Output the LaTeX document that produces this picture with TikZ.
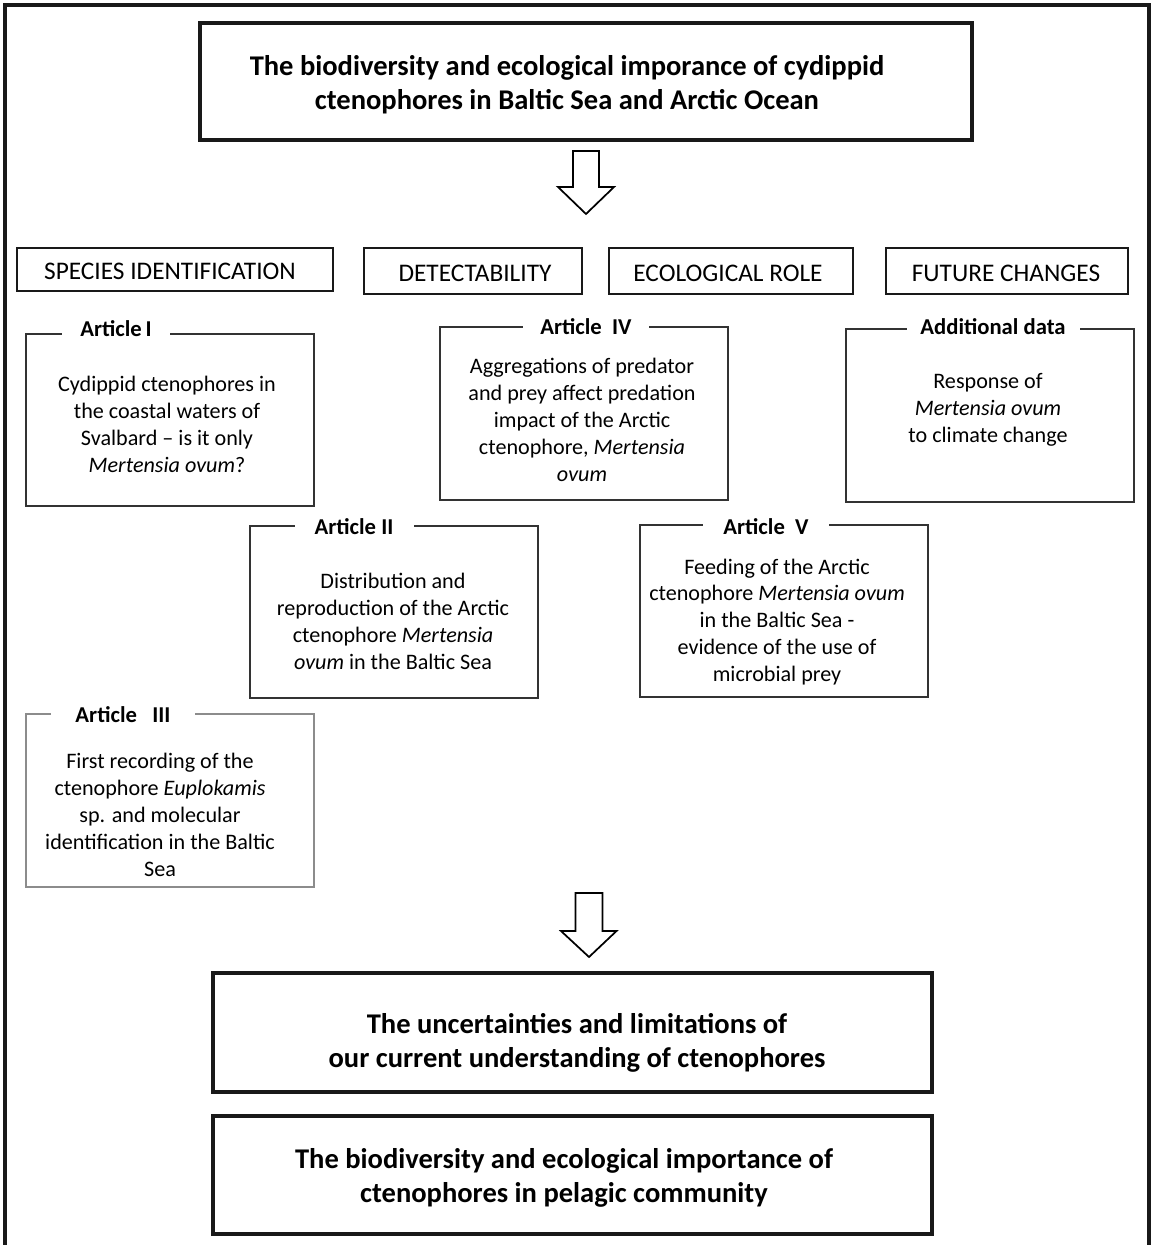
\documentclass[tikz,border=0pt]{standalone}
\usepackage{fontspec}
\setmainfont{Carlito}
\newcommand\pxu{0.75pt}
\begin{document}
\begin{tikzpicture}[x=0.75pt,y=-0.75pt,
  thick frame/.style={draw=black!90, line width=2.3pt},
  bigbox/.style={draw=black!90, line width=2.3pt, inner sep=0pt},
  catbox/.style={draw=black!90, line width=1.6pt, inner sep=0pt},
  cattext/.style={inner sep=0pt, font=\fontsize{19}{22}\selectfont},
  artbox/.style={draw=black!80, line width=1.1pt, inner sep=0pt, minimum width=288*\pxu},
  lightbox/.style={draw=black!45, line width=0.8pt, inner sep=0pt, minimum width=288*\pxu},
  bodytext/.style={align=center, inner sep=0pt, font=\fontsize{16.6}{20.2}\selectfont},
  bigtext/.style={align=center, inner sep=0pt, font=\fontsize{21.4}{25.6}\selectfont\bfseries},
  arttitle/.style={fill=white, inner ysep=1pt, inner xsep=0pt, font=\fontsize{17}{19}\selectfont\bfseries},
  blockarrow/.style={draw=black, line width=1.3pt, fill=white, line join=miter}
]
\useasboundingbox (0,0) rectangle (1153,1245);
% outer frame (open at bottom)
\draw[thick frame] (5,1246) -- (5,5) -- (1149,5) -- (1149,1246);

% title
\node[bigbox, minimum width=772*\pxu, minimum height=117*\pxu] (title) at (586,81.5) {};
\node[bigtext] (titletext) at (567,85) {The biodiversity and ecological imporance of cydippid\\ctenophores in Baltic Sea and Arctic Ocean};

% arrow 1
\coordinate (ar1) at (586,151);
\draw[blockarrow] (ar1) ++(-13,0) -- ++(26,0) -- ++(0,36) -- ++(15,0) -- (586,214) -- (558,187) -- ++(15,0) -- cycle;

% category boxes
\node[catbox, minimum width=316*\pxu, minimum height=43*\pxu] (cat1) at (175,269.5) {};
\node[cattext] (cat1t) at (170,271) {SPECIES IDENTIFICATION};
\node[catbox, minimum width=218*\pxu, minimum height=46*\pxu] (cat2) at (473,271) {};
\node[cattext] (cat2t) at (475,273) {DETECTABILITY};
\node[catbox, minimum width=244*\pxu, minimum height=46*\pxu] (cat3) at (731,271) {};
\node[cattext] (cat3t) at (728,273) {ECOLOGICAL ROLE};
\node[catbox, minimum width=242*\pxu, minimum height=46*\pxu] (cat4) at (1007,271) {};
\node[cattext] (cat4t) at (1006,273) {FUTURE CHANGES};

% Article I
\node[artbox, minimum height=172*\pxu] (a1) at (170,420) {};
\node[arttitle, minimum width=108*\pxu] (a1l) at (116,329) {Article\,I};
\node[bodytext] (a1t) at (167,424) {Cydippid ctenophores in\\the coastal waters of\\Svalbard -- is it only\\\textit{Mertensia ovum}?};

% Article IV
\node[artbox, minimum height=173*\pxu] (a4) at (584,413.5) {};
\node[arttitle, minimum width=126*\pxu] (a4l) at (586,327) {Article\ \ IV};
\node[bodytext] (a4t) at (582,420) {Aggregations of predator\\and prey affect predation\\impact of the Arctic\\ctenophore, \textit{Mertensia}\\\textit{ovum}};

% Additional data
\node[artbox, minimum height=173*\pxu] (ad) at (990,415.5) {};
\node[arttitle, minimum width=173*\pxu] (adl) at (993,327) {Additional data};
\node[bodytext] (adt) at (988,410) {Response of\\\textit{Mertensia ovum}\\to climate change};

% Article II
\node[artbox, minimum height=172*\pxu] (a2) at (394,612) {};
\node[arttitle, minimum width=119*\pxu] (a2l) at (354,527) {Article\ II};
\node[bodytext] (a2t) at (393,621) {Distribution and\\reproduction of the Arctic\\ctenophore \textit{Mertensia}\\\textit{ovum} in the Baltic Sea};

% Article V
\node[artbox, minimum height=172*\pxu] (a5) at (784,611) {};
\node[arttitle, minimum width=126*\pxu] (a5l) at (766,527) {Article\ \ V};
\node[bodytext] (a5t) at (777,622) {Feeding of the Arctic\\ctenophore \textit{Mertensia ovum}\\in the Baltic Sea -\\evidence of the use of\\microbial prey};

% Article III
\node[lightbox, minimum height=173*\pxu] (a3) at (170,800.5) {};
\node[arttitle, minimum width=144*\pxu] (a3l) at (123,715) {Article\ \ \ III};
\node[bodytext] (a3t) at (160,815) {First recording of the\\ctenophore \textit{Euplokamis}\\sp. and molecular\\identification in the Baltic\\Sea};

% arrow 2
\coordinate (ar2) at (589,893);
\draw[blockarrow] (ar2) ++(-13.5,0) -- ++(27,0) -- ++(0,38) -- ++(14,0) -- (589,957) -- (561,931) -- ++(14.5,0) -- cycle;

% bottom boxes
\node[bigbox, minimum width=719*\pxu, minimum height=119*\pxu] (b3) at (572.5,1032.5) {};
\node[bigtext] (b3t) at (577,1043) {The uncertainties and limitations of\\our current understanding of ctenophores};
\node[bigbox, minimum width=719*\pxu, minimum height=118*\pxu] (b4) at (572.5,1175) {};
\node[bigtext] (b4t) at (564,1178) {The biodiversity and ecological importance of\\ctenophores in pelagic community};
\end{tikzpicture}
\end{document}
